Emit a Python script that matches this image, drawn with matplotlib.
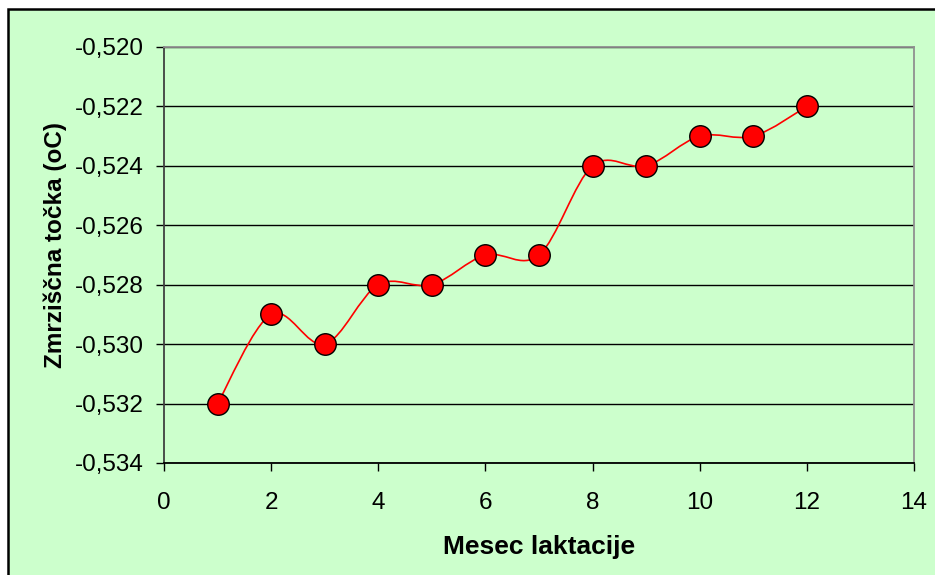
import matplotlib.pyplot as plt
from matplotlib.path import Path
from matplotlib.patches import PathPatch, Rectangle

plt.rcParams["font.family"] = ["Liberation Sans", "DejaVu Sans"]

# freezing point of milk by month of lactation
months = [1, 2, 3, 4, 5, 6, 7, 8, 9, 10, 11, 12]
freezing_point = [-0.532, -0.529, -0.530, -0.528, -0.528, -0.527,
                  -0.527, -0.524, -0.524, -0.523, -0.523, -0.522]

x_ticks = [0, 2, 4, 6, 8, 10, 12, 14]
y_ticks = [-0.534, -0.532, -0.530, -0.528, -0.526, -0.524, -0.522, -0.520]

BG = "#CCFFCC"


def smooth_path(xs, ys):
    """Excel-style smoothed line: cubic Bezier segments through every point."""
    pts = list(zip(xs, ys))
    n = len(pts)
    verts = [pts[0]]
    codes = [Path.MOVETO]
    for i in range(n - 1):
        p_prev = pts[i - 1] if i > 0 else pts[i]
        p0, p1 = pts[i], pts[i + 1]
        p_next = pts[i + 2] if i + 2 < n else pts[i + 1]
        c1 = (p0[0] + (p1[0] - p_prev[0]) / 6, p0[1] + (p1[1] - p_prev[1]) / 6)
        c2 = (p1[0] - (p_next[0] - p0[0]) / 6, p1[1] - (p_next[1] - p0[1]) / 6)
        verts += [c1, c2, p1]
        codes += [Path.CURVE4] * 3
    return Path(verts, codes)


fig = plt.figure(figsize=(9.35, 5.75), dpi=100)
fig.patch.set_facecolor("white")
fig.add_artist(Rectangle((8 / 935, -0.05), 1.1, 1 - 9 / 575 + 0.05,
                         transform=fig.transFigure, facecolor=BG,
                         edgecolor="black", linewidth=1.8, zorder=-10))

ax = fig.add_axes([164 / 935, 1 - 463 / 575, 750 / 935, 416 / 575])
ax.set_facecolor(BG)

ax.add_patch(PathPatch(smooth_path(months, freezing_point), facecolor="none",
                       edgecolor="red", linewidth=1.2, zorder=3))
ax.plot(months, freezing_point, linestyle="none", marker="o", markersize=15.5,
        markerfacecolor="red", markeredgecolor="black", markeredgewidth=1.0,
        zorder=4)

ax.set_xlim(0, 14)
ax.set_ylim(-0.534, -0.520)
ax.set_xticks(x_ticks)
ax.set_yticks(y_ticks)
ax.set_yticklabels([f"{v:.3f}".replace(".", ",") for v in y_ticks])
ax.tick_params(axis="both", direction="out", length=6, width=1, labelsize=17.5,
               colors="black")
ax.tick_params(axis="x", pad=15)
ax.tick_params(axis="y", pad=8.5)

ax.grid(axis="y", color="black", linewidth=1)
ax.set_axisbelow(True)
ax.spines["left"].set_color("#404040")
ax.spines["bottom"].set_color("black")
ax.spines["top"].set_color("#909090")
ax.spines["right"].set_color("#909090")
for s in ax.spines.values():
    s.set_linewidth(1.3)

ax.set_xlabel("Mesec laktacije", fontsize=19, fontweight="bold", labelpad=15)
ax.set_ylabel("Zmrziščna točka (oC)", fontsize=17.5, fontweight="bold",
              labelpad=6, y=0.525)

fig.savefig("out.png", dpi=100, facecolor=fig.get_facecolor())
